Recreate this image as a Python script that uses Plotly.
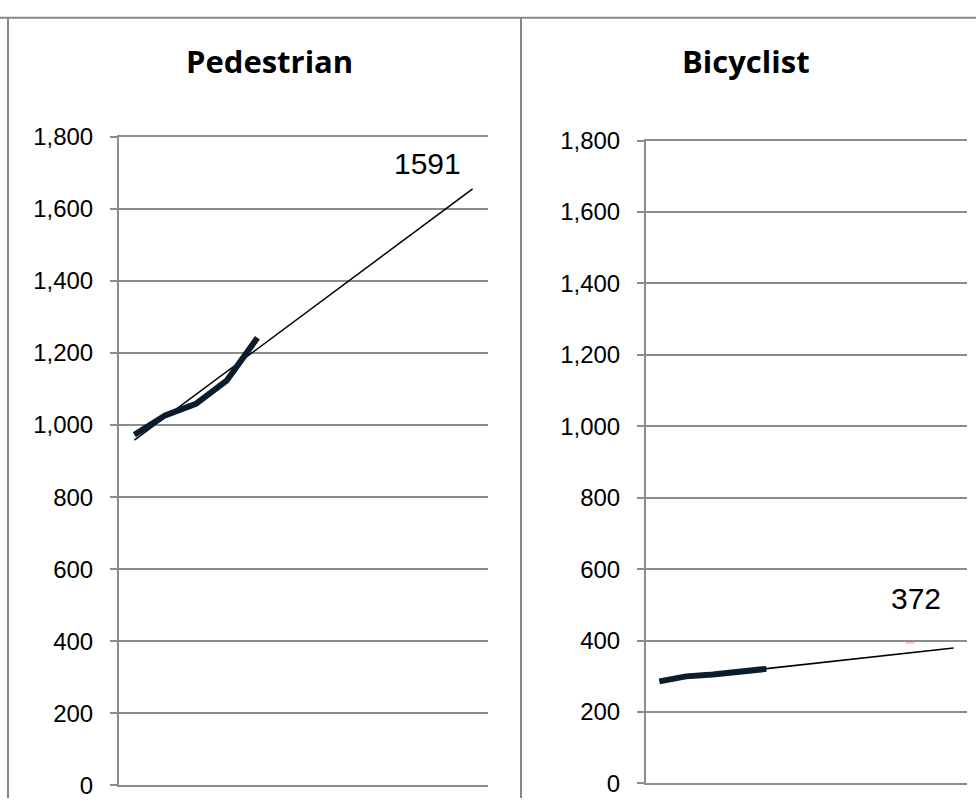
import numpy as np
import plotly.graph_objects as go

# data: 5 observed years, trend carried forward to 12 periods
periods = list(range(1, 13))
obs_periods = [1, 2, 3, 4, 5]
pedestrian = [973, 1027, 1059, 1123, 1242]
bicyclist = [286, 300, 305, 313, 321]
titles = ["Pedestrian", "Bicyclist"]
forecast_labels = ["1591", "372"]
y_ticks = [0, 200, 400, 600, 800, 1000, 1200, 1400, 1600, 1800]

grid_col = "#8c8c8c"
line_col = "#0b1c2c"
W, H = 976, 811

fig = go.Figure()

# linear trendlines (like Excel's), fitted to observed points
for i, vals in enumerate([pedestrian, bicyclist]):
    xa = "x" if i == 0 else "x2"
    ya = "y" if i == 0 else "y2"
    slope, icpt = np.polyfit(obs_periods, vals, 1)
    trend_x = [periods[0], periods[-1]]
    trend_y = [icpt + slope * periods[0], icpt + slope * periods[-1]]
    fig.add_trace(go.Scatter(x=trend_x, y=trend_y, mode="lines",
                             line=dict(color="black", width=1.5),
                             xaxis=xa, yaxis=ya, showlegend=False))
    fig.add_trace(go.Scatter(x=obs_periods, y=vals, mode="lines",
                             line=dict(color=line_col, width=6),
                             xaxis=xa, yaxis=ya, showlegend=False))

def px_x(p):
    return p / W

def px_y(p):
    return 1 - p / H

axis_y = dict(range=[0, 1800], tickvals=y_ticks, tickformat=",d",
              showgrid=True, gridcolor=grid_col, gridwidth=2,
              showline=True, linecolor=grid_col, linewidth=2,
              ticks="outside", ticklen=7, tickcolor=grid_col, tickwidth=2,
              ticklabelstandoff=12, zeroline=False,
              tickfont=dict(family="Liberation Sans", size=24, color="black"))
# mirror=True gives the top (1,800) gridline that plotly skips at the range edge
axis_x = dict(range=[0.5, 12.5], showticklabels=False, showgrid=False,
              zeroline=False, showline=True, mirror=True,
              linecolor=grid_col, linewidth=2, ticks="")

fig.update_layout(
    width=W, height=H,
    margin=dict(l=0, r=0, t=0, b=0),
    paper_bgcolor="white", plot_bgcolor="white",
    xaxis=dict(axis_x, domain=[px_x(119), px_x(488)], anchor="y"),
    yaxis=dict(axis_y, domain=[px_y(798), px_y(127)], anchor="x"),
    xaxis2=dict(axis_x, domain=[px_x(646), px_x(967)], anchor="y2"),
    yaxis2=dict(axis_y, domain=[px_y(796), px_y(131)], anchor="x2"),
)

# panel titles
for cx, t in zip([269, 746], titles):
    fig.add_annotation(text="<b>" + t + "</b>", xref="paper", yref="paper",
                       x=px_x(cx), y=px_y(49), xanchor="center", yanchor="middle",
                       showarrow=False,
                       font=dict(family="Open Sans", size=31, color="black"))

# forecast value labels
fig.add_annotation(text=forecast_labels[0], xref="x", yref="y", x=10.53, y=1725,
                   showarrow=False, xanchor="center", yanchor="middle",
                   font=dict(family="Liberation Sans", size=30, color="black"))
fig.add_annotation(text=forecast_labels[1], xref="x2", yref="y2", x=10.59, y=519,
                   showarrow=False, xanchor="center", yanchor="middle",
                   font=dict(family="Liberation Sans", size=30, color="black"))

# little pink dash in the bicyclist panel
fig.add_shape(type="line", xref="x2", yref="y2", x0=10.2, x1=10.55, y0=394, y1=394,
              line=dict(color="#ffb3b3", width=1.5))

# chart frames
frame = dict(color="#878787", width=2)
fig.add_shape(type="line", xref="paper", yref="paper", x0=0, x1=1,
              y0=px_y(4), y1=px_y(4), line=frame)
fig.add_shape(type="line", xref="paper", yref="paper", x0=px_x(8), x1=px_x(8),
              y0=0, y1=px_y(4), line=frame)
fig.add_shape(type="line", xref="paper", yref="paper", x0=px_x(521), x1=px_x(521),
              y0=0, y1=px_y(4), line=frame)

# pin the plot to the window's top-left corner
pin = ("document.body.style.margin='0';"
       "var d=document.getElementById('{plot_id}');"
       "d.style.position='fixed';d.style.top='0px';d.style.left='0px';")
fig.write_html("out.html", config={"displayModeBar": False}, post_script=pin)
